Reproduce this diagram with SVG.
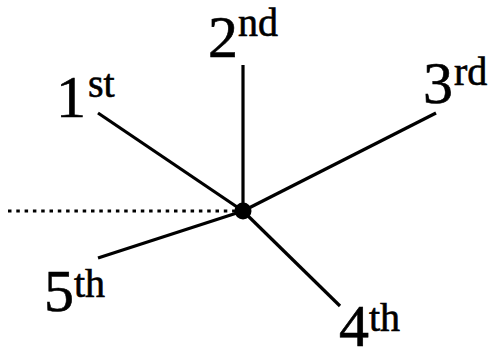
<svg xmlns="http://www.w3.org/2000/svg" width="496" height="350" viewBox="0 0 496 350">
  <style>
    .ray { stroke: #000; stroke-width: 3.2; fill: none; stroke-linecap: butt; }
    .ref { stroke: #000; stroke-width: 3; stroke-dasharray: 3.5 4.8; fill: none; }
    .lbl { font-family: "Liberation Serif", "Times New Roman", serif; font-size: 60px; fill: #000; stroke: #000; stroke-width: 0.6; }
    .sup { font-size: 40px; }
  </style>
  <rect width="496" height="350" fill="#fff"/>

  <!-- rays from the common centre -->
  <g id="connectors">
    <line class="ref" x1="8" y1="211" x2="236" y2="211"/>
    <line class="ray" x1="98" y1="113" x2="243" y2="211"/>
    <line class="ray" x1="243" y1="65" x2="243" y2="211"/>
    <line class="ray" x1="436" y1="113" x2="243" y2="211"/>
    <line class="ray" x1="243" y1="211" x2="340" y2="306"/>
    <line class="ray" x1="98" y1="258" x2="243" y2="211"/>
  </g>

  <g id="center">
    <circle cx="243" cy="211" r="8.5" fill="#000"/>
  </g>

  <g id="first">
    <text class="lbl" x="56" y="117">1<tspan class="sup" dx="2" dy="-20">st</tspan></text>
  </g>
  <g id="second">
    <text class="lbl" x="208" y="57">2<tspan class="sup" dy="-21">nd</tspan></text>
  </g>
  <g id="third">
    <text class="lbl" x="423" y="103">3<tspan class="sup" dx="1" dy="-18">rd</tspan></text>
  </g>
  <g id="fourth">
    <text class="lbl" x="339" y="346">4<tspan class="sup" dy="-15">th</tspan></text>
  </g>
  <g id="fifth">
    <text class="lbl" x="44" y="311">5<tspan class="sup" dy="-14">th</tspan></text>
  </g>
</svg>
